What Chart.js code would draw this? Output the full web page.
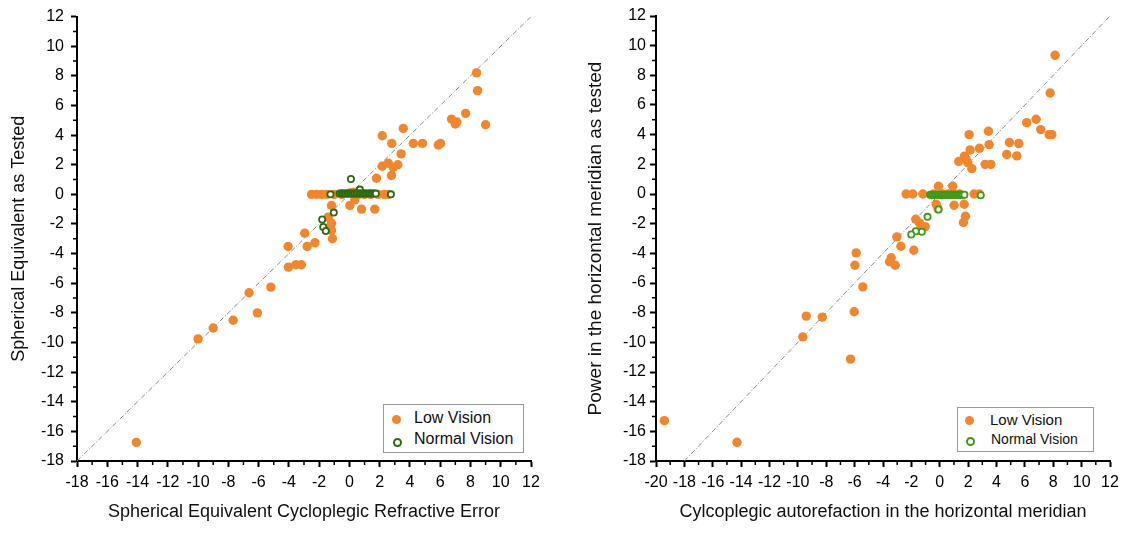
<!DOCTYPE html>
<html>
<head>
<meta charset="utf-8">
<script src="https://cdn.jsdelivr.net/npm/chart.js@4"></script>
<style>
  body { margin: 0; background: #fff; font-family: "Liberation Sans", Arial, sans-serif; }
  .wrap { position: relative; width: 1125px; height: 533px; }
  .panel { position: absolute; top: 0; height: 533px; }
  .legend { position: absolute; border: 1px solid #9a9a9a; background: #fff; color: #111; }
  .legend .row { position: absolute; left: 0; white-space: nowrap; }
  .legend .dot { position: absolute; border-radius: 50%; }
</style>
</head>
<body>
<div class="wrap">
  <div class="panel" style="left:0;width:560px"><canvas id="leftChart"></canvas></div>
  <div class="panel" style="left:563px;width:562px"><canvas id="rightChart"></canvas></div>

  <div class="legend" style="left:383px;top:404px;width:139px;height:47px">
    <div class="dot" style="left:8px;top:10px;width:9px;height:9px;background:#f0862e"></div>
    <div class="row" style="left:30px;top:4px;font-size:16px">Low Vision</div>
    <div class="dot" style="left:9px;top:33px;width:5px;height:5px;border:2px solid #2f6a12"></div>
    <div class="row" style="left:30px;top:25px;font-size:16px">Normal Vision</div>
  </div>

  <div class="legend" style="left:957px;top:407px;width:135px;height:43px">
    <div class="dot" style="left:7px;top:8px;width:9px;height:9px;background:#f0862e"></div>
    <div class="row" style="left:32px;top:3px;font-size:15px">Low Vision</div>
    <div class="dot" style="left:8px;top:29px;width:5px;height:5px;border:2px solid #3f9a1a"></div>
    <div class="row" style="left:33px;top:23px;font-size:14px">Normal Vision</div>
  </div>
</div>

<script>
// ── Data: left panel (spherical equivalent) ───────────────────────────────
const leftLowX = [8.4, 8.47, 7.68, 6.75, 7.0, 7.1, 9.0, 3.56, 2.17, 2.8, 4.22, 4.83, 5.87, 6.02, 3.42,
  2.17, 2.57, 2.9, 3.2, 2.78, 1.79,
  -2.5, -2.17, -1.84, -1.5, -1.0, -0.5, 0.05, 0.3, 0.6, 1.0, 1.4, 1.9, 2.3, 2.6,
  -1.18, 0.03, 0.36, 0.8, 1.68, -1.4, -1.18, -1.18, -1.12, -1.3,
  -2.95, -2.28, -2.79, -4.05, -4.03, -3.54, -3.17, -5.19, -6.63, -6.08, -7.68, -9.0, -10.0, -14.08];
const leftLowY = [8.2, 7.0, 5.47, 5.08, 4.75, 4.88, 4.7, 4.45, 3.96, 3.44, 3.44, 3.44, 3.33, 3.44, 2.73,
  1.9, 2.1, 1.83, 2.0, 1.27, 1.09,
  0, 0, 0, 0, 0, 0, 0.1, 0.15, 0, 0, 0, 0, 0, 0,
  -0.75, -0.75, -0.37, -1.0, -1.0, -1.54, -1.95, -2.44, -3.0, -2.2,
  -2.62, -3.27, -3.52, -3.52, -4.91, -4.75, -4.75, -6.26, -6.64, -8.0, -8.5, -9.02, -9.76, -16.74];

const leftNormX = [-1.25, 2.74, 0.1, 0.69, -1.03, -1.8, -1.73, -1.56,
  -0.65, -0.55, -0.45, -0.35, -0.25, -0.15, -0.05, 0.05, 0.15, 0.25, 0.35, 0.45, 0.55, 0.65,
  0.75, 0.85, 0.95, 1.05, 1.15, 1.25, 1.35, 1.45, 1.55, 1.65, 1.75];
const leftNormY = [0, 0, 1.04, 0.32, -1.23, -1.7, -2.2, -2.48,
  0.05, 0.05, 0.05, 0.05, 0.05, 0.05, 0.05, 0.05, 0.05, 0.05, 0.05, 0.05, 0.05, 0.05,
  0.05, 0.05, 0.05, 0.05, 0.05, 0.05, 0.05, 0.05, 0.05, 0.05, 0.05];

// ── Data: right panel (horizontal meridian) ───────────────────────────────
const rightLowX = [8.13, 7.78, 6.13, 6.79, 7.12, 7.71, 7.9, 3.43, 2.07, 3.48, 4.91, 5.57, 2.8, 2.14,
  4.72, 5.43, 1.74, 1.86, 1.34, 1.98, 2.26, 3.2, 3.6,
  -2.37, -1.9, -1.19, -0.44, 0.2, 0.6, 1.0, 1.4, 2.42, 2.8,
  -0.09, 0.92, -0.25, 1.01, 1.72, 1.81, 1.67, -0.12,
  -1.69, -1.43, -1.26, -1.03, -3.02, -2.74, -1.83, -5.89, -5.98, -3.42, -3.54, -3.14,
  -5.42, -6.03, -9.41, -8.28, -9.65, -6.29, -19.41, -14.29];
const rightLowY = [9.35, 6.81, 4.81, 5.04, 4.34, 4.0, 4.0, 4.23, 4.0, 3.33, 3.47, 3.4, 3.08, 2.97,
  2.66, 2.57, 2.55, 2.32, 2.19, 2.12, 1.71, 2.0, 2.0,
  0, 0, 0, 0, 0, 0, 0, 0, 0, 0,
  0.52, 0.52, -0.69, -0.76, -0.69, -1.5, -1.92, -1.0,
  -1.7, -1.95, -2.22, -2.2, -2.89, -3.52, -3.79, -3.97, -4.8, -4.3, -4.57, -4.8,
  -6.26, -7.94, -8.23, -8.3, -9.63, -11.13, -15.28, -16.74];

const rightNormX = [2.89, -0.09, -0.86, -1.69, -2.01, -1.26,
  -0.68, -0.58, -0.48, -0.38, -0.28, -0.18, -0.08, 0.02, 0.12, 0.22, 0.32, 0.42, 0.52, 0.62,
  0.72, 0.82, 0.92, 1.02, 1.12, 1.22, 1.32, 1.42, 1.52, 1.62, 1.74];
const rightNormY = [-0.08, -1.05, -1.54, -2.51, -2.73, -2.55,
  -0.05, -0.05, -0.05, -0.05, -0.05, -0.05, -0.05, -0.05, -0.05, -0.05, -0.05, -0.05, -0.05, -0.05,
  -0.05, -0.05, -0.05, -0.05, -0.05, -0.05, -0.05, -0.05, -0.05, -0.05, -0.05];

const identityLine = [-18, 12];
const ORANGE = '#f0862e';
const FONT = "'Liberation Sans', Arial, sans-serif";

const pts = (xs, ys) => xs.map((x, i) => ({ x, y: ys[i] }));

// minor tick marks at odd integers, outside the plot
const minorTicks = {
  id: 'minorTicks',
  afterDraw(chart) {
    const { ctx, chartArea: a, scales: { x, y } } = chart;
    ctx.save();
    ctx.strokeStyle = '#000';
    ctx.lineWidth = 1.5;
    ctx.beginPath();
    for (let v = Math.ceil(x.min); v <= x.max; v++) {
      if (v % 2 === 0) continue;
      const px = x.getPixelForValue(v);
      ctx.moveTo(px, a.bottom); ctx.lineTo(px, a.bottom + 4);
    }
    for (let v = Math.ceil(y.min); v <= y.max; v++) {
      if (v % 2 === 0) continue;
      const py = y.getPixelForValue(v);
      ctx.moveTo(a.left, py); ctx.lineTo(a.left - 4, py);
    }
    ctx.stroke();
    ctx.restore();
  },
};

function makeChart(id, o) {
  return new Chart(document.getElementById(id), {
    type: 'scatter',
    data: {
      datasets: [
        {
          label: 'Normal Vision', order: 0,
          data: pts(o.normX, o.normY),
          pointRadius: 3.1, pointBorderWidth: 1.8,
          pointBackgroundColor: '#fff', pointBorderColor: o.green,
        },
        {
          label: 'Low Vision', order: 1,
          data: pts(o.lowX, o.lowY),
          pointRadius: 4.7, pointBorderWidth: 0,
          pointBackgroundColor: ORANGE, pointBorderColor: ORANGE,
        },
        {
          type: 'line', label: 'y = x', order: 2,
          data: pts(identityLine, identityLine),
          borderColor: '#8a8a8a', borderWidth: 1, borderDash: [5, 2, 1, 2],
          pointRadius: 0, fill: false,
        },
      ],
    },
    options: {
      responsive: false, animation: false,
      layout: { padding: { top: 16, right: o.padRight, left: 0, bottom: 0 } },
      plugins: { legend: { display: false }, tooltip: { enabled: false } },
      scales: {
        x: {
          type: 'linear', min: o.xMin, max: 12,
          afterFit: s => { s.height = 72; },
          border: { color: '#000', width: 2 },
          grid: { drawOnChartArea: false, color: '#000', tickLength: 6, tickWidth: 2 },
          ticks: { stepSize: 2, color: '#000', padding: 6, maxRotation: 0, autoSkip: false,
                   font: { family: FONT, size: 16 } },
          title: { display: true, text: o.xTitle, color: '#111', padding: { top: 4, bottom: 10 },
                   font: { family: FONT, size: 18 } },
        },
        y: {
          type: 'linear', min: -18, max: 12,
          afterFit: s => { s.width = o.yWidth; },
          border: { color: '#000', width: 2 },
          grid: { drawOnChartArea: false, color: '#000', tickLength: 6, tickWidth: 2 },
          ticks: { stepSize: 2, color: '#000', padding: o.yTickPad, autoSkip: false,
                   font: { family: FONT, size: 16 } },
          title: { display: true, text: o.yTitle, color: '#111',
                   padding: { top: o.yTitlePad, bottom: 4 },
                   font: { family: FONT, size: o.yTitleSize } },
        },
      },
    },
    plugins: [minorTicks],
  });
}

const lc = document.getElementById('leftChart');  lc.width = 560; lc.height = 533;
const rc = document.getElementById('rightChart'); rc.width = 562; rc.height = 533;

makeChart('leftChart', {
  lowX: leftLowX, lowY: leftLowY, normX: leftNormX, normY: leftNormY,
  green: '#2f6a12', xMin: -18, yWidth: 77, padRight: 29, yTickPad: 7,
  yTitlePad: 8, yTitleSize: 18,
  xTitle: 'Spherical Equivalent Cycloplegic Refractive Error',
  yTitle: 'Spherical Equivalent as Tested',
});
makeChart('rightChart', {
  lowX: rightLowX, lowY: rightLowY, normX: rightNormX, normY: rightNormY,
  green: '#3f9a1a', xMin: -20, yWidth: 93, padRight: 15, yTickPad: 4,
  yTitlePad: 21, yTitleSize: 19,
  xTitle: 'Cylcoplegic autorefaction in the horizontal meridian',
  yTitle: 'Power in the horizontal meridian as tested',
});
</script>
</body>
</html>
